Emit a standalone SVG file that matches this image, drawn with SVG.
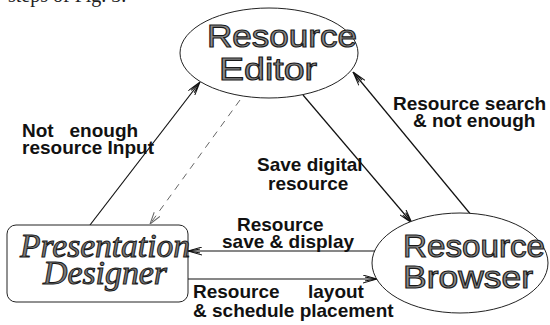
<svg xmlns="http://www.w3.org/2000/svg" width="550" height="325" viewBox="0 0 550 325">
<style>
.node{fill:#fff;stroke:#222;stroke-width:1}
.big{font-family:"Liberation Sans",Arial,sans-serif;font-size:31px;fill:#8a8a8a;stroke:#1a1a1a;stroke-width:1.1}
.ital{font-family:"Liberation Serif","Times New Roman",serif;font-style:italic;font-size:33px;fill:#7a7a7a;stroke:#1a1a1a;stroke-width:1}
.lbl{font-family:"Liberation Sans",Arial,sans-serif;font-weight:bold;font-size:19px;fill:#111;white-space:pre}
.edge{fill:none;stroke:#111;stroke-width:1.2}
.dash{fill:none;stroke:#666;stroke-width:1;stroke-dasharray:7 6}
</style>
<defs>
<marker id="arr" viewBox="0 0 14 9" refX="14" refY="4.5" markerWidth="14" markerHeight="9" markerUnits="userSpaceOnUse" orient="auto">
<path d="M0,0.5 L14,4.5 L0,8.5 M2,2.6 L14,4.5 L2,6.4" fill="none" stroke="#111" stroke-width="1"/>
</marker>
<marker id="arrg" viewBox="0 0 12 8" refX="12" refY="4" markerWidth="12" markerHeight="8" markerUnits="userSpaceOnUse" orient="auto">
<path d="M0,0.5 L12,4 L0,7.5" fill="none" stroke="#666" stroke-width="1"/>
</marker>
</defs>
<text x="8" y="2" font-family="Liberation Serif,serif" font-size="20" fill="#222">steps of Fig. 3.</text>
<g id="connectors">
<line class="edge" x1="90" y1="225" x2="200" y2="82" marker-end="url(#arr)"/>
<line class="dash" x1="240" y1="100" x2="150" y2="224" marker-end="url(#arrg)"/>
<line class="edge" x1="303" y1="95" x2="412" y2="223" marker-end="url(#arr)"/>
<line class="edge" x1="472" y1="216" x2="353" y2="72" marker-end="url(#arr)"/>
<line class="edge" x1="375" y1="251" x2="188" y2="251" marker-end="url(#arr)"/>
<line class="edge" x1="188" y1="279" x2="377" y2="279" marker-end="url(#arr)"/>
<text class="lbl" x="22" y="137">Not   enough</text>
<text class="lbl" x="22" y="154">resource Input</text>
<text class="lbl" x="393" y="110">Resource search</text>
<text class="lbl" x="413" y="127">&amp; not enough</text>
<text class="lbl" x="257" y="171">Save digital</text>
<text class="lbl" x="268" y="190">resource</text>
<text class="lbl" x="237" y="231">Resource</text>
<text class="lbl" x="222" y="248">save &amp; display</text>
<text class="lbl" x="193" y="298">Resource<tspan x="308">layout</tspan></text>
<text class="lbl" x="193" y="317">&amp; schedule placement</text>
</g>
<g id="resource-editor">
<ellipse class="node" cx="269" cy="53" rx="89" ry="45"/>
<text class="big" x="207" y="47" textLength="150" lengthAdjust="spacingAndGlyphs">Resource</text>
<text class="big" x="219" y="80" textLength="98" lengthAdjust="spacingAndGlyphs">Editor</text>
</g>
<g id="resource-browser">
<ellipse class="node" cx="460" cy="263" rx="88" ry="50"/>
<text class="big" x="403" y="257" textLength="142" lengthAdjust="spacingAndGlyphs">Resource</text>
<text class="big" x="403" y="288" textLength="130" lengthAdjust="spacingAndGlyphs">Browser</text>
</g>
<g id="presentation-designer">
<rect class="node" x="7" y="225" width="181" height="77" rx="9"/>
<text class="ital" x="20" y="257" textLength="170" lengthAdjust="spacingAndGlyphs">Presentation</text>
<text class="ital" x="43" y="284" textLength="124" lengthAdjust="spacingAndGlyphs">Designer</text>
</g>
</svg>
